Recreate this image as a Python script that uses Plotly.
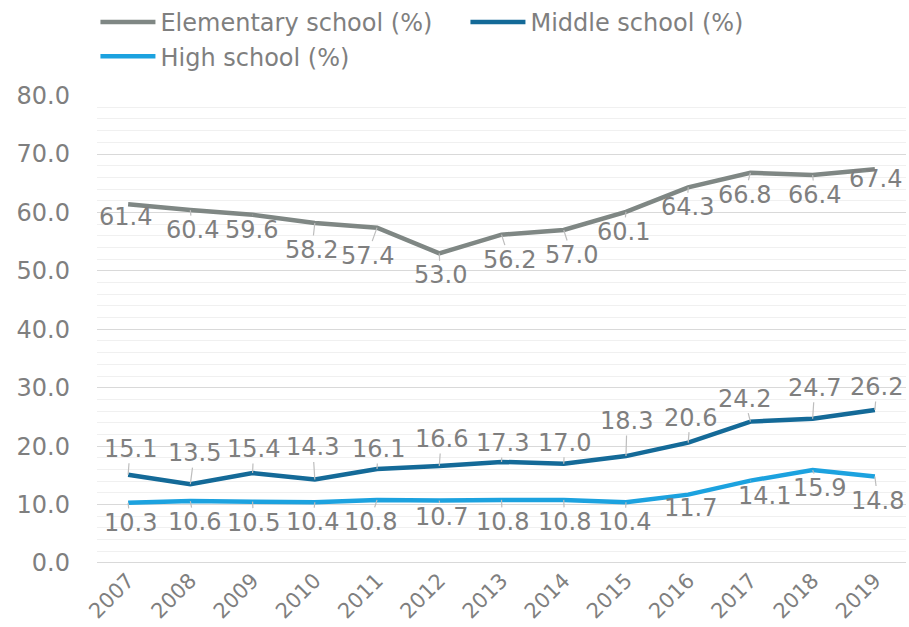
import plotly.graph_objects as go

years = ["2007", "2008", "2009", "2010", "2011", "2012", "2013",
         "2014", "2015", "2016", "2017", "2018", "2019"]
elementary = [61.4, 60.4, 59.6, 58.2, 57.4, 53.0, 56.2, 57.0, 60.1, 64.3, 66.8, 66.4, 67.4]
middle = [15.1, 13.5, 15.4, 14.3, 16.1, 16.6, 17.3, 17.0, 18.3, 20.6, 24.2, 24.7, 26.2]
high = [10.3, 10.6, 10.5, 10.4, 10.8, 10.7, 10.8, 10.8, 10.4, 11.7, 14.1, 15.9, 14.8]

# label offsets (pixels) from each point
elem_dx = [-3, 2, -1, -3, -10, 1, 8, 8, -2, -1, -6, 2, 1]
elem_dy = [13, 20, 15, 27, 28, 22, 25, 25, 20, 20, 22, 20, 10]
mid_dx = [2, 4, 1, -2, 1, 2, 1, 1, 1, 2, -6, 2, 2]
mid_dy = [-26, -31, -24, -32, -20, -27, -19, -21, -35, -25, -23, -31, -23]
high_dx = [2, 4, 1, -2, -7, 2, 1, 1, -1, 2, 14, 7, 3]
high_dy = [20, 21, 21, 20, 22, 17, 22, 22, 20, 13, 15, 18, 24]

series = [
    ("Elementary school (%)", elementary, "#7f8784", elem_dx, elem_dy),
    ("Middle school (%)", middle, "#146a98", mid_dx, mid_dy),
    ("High school (%)", high, "#1ca2df", high_dx, high_dy),
]

FONT = "DejaVu Sans"
TXT = "#7f7f7f"

fig = go.Figure()
annotations = []
for name, vals, color, dxs, dys in series:
    fig.add_trace(go.Scatter(
        x=years, y=vals, name=name, mode="lines",
        line=dict(color=color, width=4.5),
    ))
    for i, (v, dx, dy) in enumerate(zip(vals, dxs, dys)):
        annotations.append(dict(
            x=i, y=v, xref="x", yref="y", text=f"{v:.1f}",
            showarrow=True, ax=dx, ay=dy, axref="pixel", ayref="pixel",
            arrowhead=0, arrowwidth=1.2, arrowcolor="#bdbdbd", standoff=0,
            borderpad=0,
            font=dict(family=FONT, size=24, color=TXT),
        ))

fig.update_layout(
    width=909, height=627,
    margin=dict(l=97, r=3, t=93, b=64),
    paper_bgcolor="white", plot_bgcolor="white",
    font=dict(family=FONT, color=TXT),
    showlegend=True,
    legend=dict(
        orientation="h", xref="container", yref="container",
        x=0.105, y=1.0, xanchor="left", yanchor="top",
        font=dict(family=FONT, size=24, color=TXT),
        itemwidth=55, entrywidth=300, entrywidthmode="pixels",
        tracegroupgap=0, bgcolor="rgba(0,0,0,0)",
    ),
    annotations=annotations,
    xaxis=dict(
        type="category", range=[-0.5, len(years) - 0.5], autorange=False,
        tickangle=-45, showgrid=False, zeroline=False,
        showline=False, ticks="",
        tickfont=dict(family=FONT, size=21, color=TXT),
    ),
    yaxis=dict(
        range=[0, 80], dtick=10, tickformat=".1f",
        showgrid=True, gridcolor="#d9d9d9", gridwidth=1,
        zeroline=True, zerolinecolor="#d9d9d9", zerolinewidth=1,
        showline=False, ticks="", ticklabelstandoff=26,
        tickfont=dict(family=FONT, size=24, color=TXT),
        minor=dict(dtick=2, showgrid=True, gridcolor="#f0f0f0", gridwidth=1),
    ),
)

fig.write_html("out.html")
